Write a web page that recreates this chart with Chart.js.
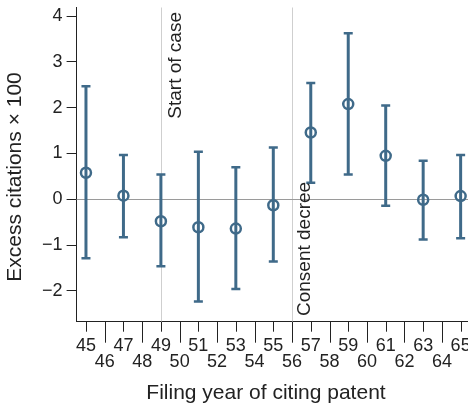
<!DOCTYPE html>
<html>
<head>
<meta charset="utf-8">
<script src="https://cdn.jsdelivr.net/npm/chart.js@4/dist/chart.umd.min.js"></script>
<style>
  body { margin: 0; background: #fff; }
  #wrap { width: 468px; height: 409px; overflow: hidden; }
</style>
</head>
<body>
<div id="wrap"><canvas id="chart" width="490" height="409"></canvas></div>
<script>
// filing years with an estimate (odd years), and the full year axis
const years = [45, 47, 49, 51, 53, 55, 57, 59, 61, 63, 65];
const estimate = [0.58, 0.08, -0.48, -0.61, -0.64, -0.13, 1.46, 2.08, 0.95, -0.01, 0.07];
const upper = [2.47, 0.97, 0.54, 1.04, 0.70, 1.13, 2.54, 3.63, 2.05, 0.84, 0.97];
const lower = [-1.29, -0.83, -1.46, -2.23, -1.96, -1.36, 0.36, 0.54, -0.14, -0.88, -0.85];
const xTicks = [45, 46, 47, 48, 49, 50, 51, 52, 53, 54, 55, 56, 57, 58, 59, 60, 61, 62, 63, 64, 65];
const yTicks = [-2, -1, 0, 1, 2, 3, 4];
const events = [
  { year: 49, label: 'Start of case' },
  { year: 56, label: 'Consent decree' }
];

const blue = '#3f6a89';
const ink = '#222';
const font = 'Liberation Sans, Arial, Helvetica, sans-serif';

const extras = {
  id: 'extras',
  beforeDatasetsDraw(chart) {
    const { ctx, chartArea: a, scales: { x, y } } = chart;
    ctx.save();
    // reference lines
    ctx.lineWidth = 1;
    ctx.strokeStyle = '#cfcfcf';
    events.forEach((e) => {
      const px = Math.round(x.getPixelForValue(e.year)) + 0.5;
      ctx.beginPath();
      ctx.moveTo(px, a.top);
      ctx.lineTo(px, a.bottom);
      ctx.stroke();
    });
    ctx.strokeStyle = '#9a9a9a';
    const py0 = Math.round(y.getPixelForValue(0)) + 0.5;
    ctx.beginPath();
    ctx.moveTo(a.left, py0);
    ctx.lineTo(a.right, py0);
    ctx.stroke();

    // error bars
    ctx.strokeStyle = blue;
    years.forEach((yr, i) => {
      const px = x.getPixelForValue(yr);
      const hi = y.getPixelForValue(upper[i]);
      const lo = y.getPixelForValue(lower[i]);
      ctx.lineWidth = 3;
      ctx.beginPath();
      ctx.moveTo(px, hi);
      ctx.lineTo(px, lo);
      ctx.stroke();
      ctx.lineWidth = 2.5;
      ctx.beginPath();
      ctx.moveTo(px - 4.5, hi);
      ctx.lineTo(px + 4.5, hi);
      ctx.moveTo(px - 4.5, lo);
      ctx.lineTo(px + 4.5, lo);
      ctx.stroke();
    });
    ctx.restore();
  },
  afterDraw(chart) {
    const { ctx, chartArea: a, scales: { x, y } } = chart;
    ctx.save();
    // x tick marks, longer on even years
    ctx.strokeStyle = ink;
    ctx.lineWidth = 1;
    xTicks.forEach((v) => {
      const px = Math.round(x.getPixelForValue(v)) + 0.5;
      ctx.beginPath();
      ctx.moveTo(px, a.bottom);
      ctx.lineTo(px, a.bottom + (v % 2 === 0 ? 21 : 10));
      ctx.stroke();
    });

    // event labels
    ctx.fillStyle = ink;
    ctx.font = '19px ' + font;
    ctx.textBaseline = 'middle';
    let px = x.getPixelForValue(49) + 14.5;
    ctx.save();
    ctx.translate(px, 12);
    ctx.rotate(-Math.PI / 2);
    ctx.textAlign = 'right';
    ctx.fillText(events[0].label, 0, 0);
    ctx.restore();
    px = x.getPixelForValue(56) + 13;
    ctx.save();
    ctx.translate(px, 316);
    ctx.rotate(-Math.PI / 2);
    ctx.textAlign = 'left';
    ctx.fillText(events[1].label, 0, 0);
    ctx.restore();

    // axis titles
    ctx.font = '21px ' + font;
    ctx.textAlign = 'center';
    ctx.fillText('Filing year of citing patent', 266, 393);
    ctx.save();
    ctx.translate(15.5, 177);
    ctx.rotate(-Math.PI / 2);
    ctx.fillText('Excess citations \u00d7 100', 0, 0);
    ctx.restore();
    ctx.restore();
  }
};

new Chart(document.getElementById('chart'), {
  type: 'scatter',
  data: {
    datasets: [
      {
        data: years.map((yr, i) => ({ x: yr, y: estimate[i] })),
        pointStyle: 'circle',
        pointRadius: 5,
        pointHoverRadius: 5,
        pointBorderWidth: 2.5,
        pointBorderColor: blue,
        pointBackgroundColor: 'rgba(0,0,0,0)',
        showLine: false
      }
    ]
  },
  options: {
    responsive: false,
    animation: false,
    devicePixelRatio: 1,
    layout: { padding: { top: 6, right: 20, left: 0, bottom: 0 } },
    plugins: { legend: { display: false }, tooltip: { enabled: false } },
    scales: {
      x: {
        type: 'linear',
        min: 44.5,
        max: 65.5,
        afterBuildTicks: (scale) => { scale.ticks = xTicks.map((v) => ({ value: v })); },
        afterFit: (scale) => {
          scale.height = 87.3;
          scale.paddingLeft = 0;
          scale.paddingRight = 0;
        },
        grid: { drawOnChartArea: false, drawTicks: false },
        border: { color: ink, width: 1 },
        ticks: {
          autoSkip: false,
          maxRotation: 0,
          padding: 16,
          color: ink,
          font: { family: font, size: 18, lineHeight: 0.9 },
          callback: (v) => (v % 2 === 0 ? ['', String(v)] : String(v))
        }
      },
      y: {
        min: -2.674,
        max: 4.19,
        afterBuildTicks: (scale) => { scale.ticks = yTicks.map((v) => ({ value: v })); },
        afterFit: (scale) => {
          scale.width = 76.6;
          scale.paddingTop = 0;
          scale.paddingBottom = 0;
        },
        grid: { drawOnChartArea: false, tickLength: 10, color: ink },
        border: { color: ink, width: 1 },
        ticks: {
          padding: 4,
          color: ink,
          font: { family: font, size: 18 },
          callback: (v) => (v < 0 ? '\u2212' + Math.abs(v) : String(v))
        }
      }
    }
  },
  plugins: [extras]
});
</script>
</body>
</html>
